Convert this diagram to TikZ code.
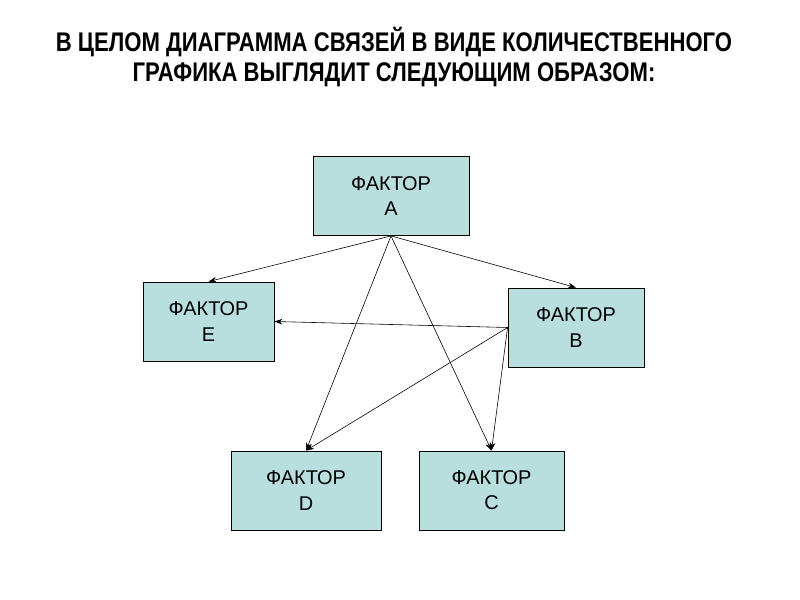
\documentclass[tikz,border=0pt]{standalone}
\usepackage{fontspec}
\setmainfont{Liberation Sans}
\newfontfamily\narrowfont[FakeStretch=0.82]{Liberation Sans}
\usepackage{tikz}
\usetikzlibrary{arrows.meta}

\begin{document}
\begin{tikzpicture}[x=0.03cm,y=-0.03cm,>={Stealth[length=2.4mm,width=1.7mm]},
  factor/.style={draw=black,line width=0.7pt,fill={rgb,255:red,185;green,222;blue,222},
    minimum height=2.37cm,align=center,inner sep=0pt,
    font=\fontsize{17}{21.5}\selectfont},
  link/.style={->,line width=0.5pt}]
  \useasboundingbox (0,0) rectangle (800,600);
  \node[font=\narrowfont\bfseries\fontsize{23}{25}\selectfont,align=center] (title) at (394,57)
    {В ЦЕЛОМ ДИАГРАММА СВЯЗЕЙ В ВИДЕ КОЛИЧЕСТВЕННОГО\\ ГРАФИКА ВЫГЛЯДИТ СЛЕДУЮЩИМ ОБРАЗОМ:};
  \node[factor,minimum width=4.68cm] (A) at (391,196) {ФАКТОР\\ A};
  \node[factor,minimum width=3.93cm] (E) at (208.5,321.5) {ФАКТОР\\ E};
  \node[factor,minimum width=4.08cm] (B) at (576,327.5) {ФАКТОР\\ B};
  \node[factor,minimum width=4.5cm] (D) at (306,490.5) {ФАКТОР\\ D};
  \node[factor,minimum width=4.35cm] (C) at (491.5,490.5) {ФАКТОР\\ C};
  \draw[link] (A.south) -- (E.north);
  \draw[link] (A.south) -- (B.north);
  \draw[link] (A.south) -- (D.north);
  \draw[link] (A.south) -- (C.north);
  \draw[link] (B.west) -- (E.east);
  \draw[link] (B.west) -- (D.north);
  \draw[link] (B.west) -- (C.north);
\end{tikzpicture}
\end{document}
